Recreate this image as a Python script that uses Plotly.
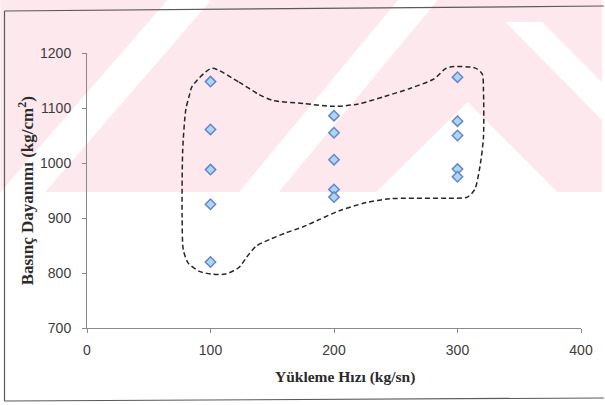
import plotly.graph_objects as go

# Loading rate (kg/sn) and measured compressive strength (kg/cm2)
rate_100 = [1148, 1061, 988, 925, 820]
rate_200 = [1086, 1055, 1006, 952, 938]
rate_300 = [1156, 1076, 1050, 989, 975]
rates = [100, 200, 300]

# Hand-drawn envelope around the measurements (data units)
envelope_x = [101, 123, 139, 150, 176, 200, 219, 241, 262, 281, 290, 295, 314, 320,
              321, 321, 318, 314, 308, 293, 245, 226, 204, 188, 175, 161, 148, 137,
              129, 123, 112, 101, 91, 82, 78, 77, 77.5, 80, 83, 85, 101]
envelope_y = [1172, 1147, 1125, 1114, 1108, 1103, 1107, 1121, 1136, 1153, 1171, 1175,
              1173, 1162, 1133, 1046, 991, 952, 938, 936, 935, 928, 913, 897, 884, 873,
              861, 849, 828, 810, 798, 798, 803, 818, 842, 903, 1024, 1097, 1124, 1139,
              1172]

x_ticks = [0, 100, 200, 300, 400]
y_ticks = [700, 800, 900, 1000, 1100, 1200]

W, H = 605, 405
L, R, T, B = 87, 21, 53, 77
PW, PH = W - L - R, H - T - B


def px(x):
    return (x - L) / PW


def py(y):
    return (H - B - y) / PH


xs, ys = [], []
for r, vals in zip(rates, [rate_100, rate_200, rate_300]):
    xs += [r] * len(vals)
    ys += vals

fig = go.Figure()

fig.add_trace(go.Scatter(
    x=envelope_x, y=envelope_y, mode="lines",
    line=dict(color="#262626", width=1.5, dash="5px,3px", shape="spline", smoothing=0.7),
    hoverinfo="skip", showlegend=False,
))

fig.add_trace(go.Scatter(
    x=xs, y=ys, mode="markers",
    marker=dict(symbol="diamond", size=8, color="#a8d8f4",
                line=dict(color="#6a84cc", width=1.5)),
    showlegend=False,
))

shapes = []
# pale pink band with white diagonal stripes behind the upper part of the figure
pink = "#fde9ed"
shapes.append(dict(type="rect", xref="paper", yref="paper", layer="below",
                   x0=px(0), x1=px(W), y0=py(192), y1=py(0),
                   fillcolor=pink, line=dict(width=0)))
stripes = [
    [(0, 192), (45, 192), (212, 0), (168, 0)],
    [(240, 192), (280, 192), (440, 0), (400, 0)],
    [(378, 192), (470, 102), (560, 192)],
    [(508, 22), (545, 22), (605, 82), (605, 120)],
]
for poly in stripes:
    path = "M " + " L ".join(f"{px(a):.4f},{py(b):.4f}" for a, b in poly) + " Z"
    shapes.append(dict(type="path", xref="paper", yref="paper", layer="below",
                       path=path, fillcolor="white", line=dict(width=0)))

# outer frame
frame = dict(color="#5a5a5a", width=1.2)
shapes.append(dict(type="line", xref="paper", yref="paper", x0=px(4), x1=px(W + 2),
                   y0=py(11), y1=py(6), line=frame))
shapes.append(dict(type="line", xref="paper", yref="paper", x0=px(4), x1=px(4),
                   y0=py(11), y1=py(401), line=frame))
shapes.append(dict(type="line", xref="paper", yref="paper", x0=px(4), x1=px(W + 2),
                   y0=py(401), y1=py(398), line=frame))

annotations = [
    dict(text="<b>Yükleme Hızı (kg/sn)</b>", xref="paper", yref="paper",
         x=px(347), y=py(377), showarrow=False,
         font=dict(family="Liberation Serif", size=15.5, color="#2b2b2b"),
         xanchor="center", yanchor="middle"),
    dict(text="<b>Basınç Dayanımı (kg/cm<sup>2</sup>)</b>", xref="paper", yref="paper",
         x=px(26), y=py(191), showarrow=False,
         font=dict(family="Liberation Serif", size=17, color="#2b2b2b"), textangle=-90,
         xanchor="center", yanchor="middle"),
]

axis_common = dict(showline=True, linecolor="#8a8a8a", linewidth=1, ticks="outside",
                   tickcolor="#8a8a8a", ticklen=4, showgrid=False, zeroline=False,
                   tickfont=dict(family="Liberation Sans", size=14, color="#3c3c3c"))

fig.update_layout(
    width=W, height=H,
    margin=dict(l=L, r=R, t=T, b=B),
    paper_bgcolor="white", plot_bgcolor="rgba(0,0,0,0)",
    xaxis=dict(range=[0, 400], tickvals=x_ticks, ticklabelstandoff=5, **axis_common),
    yaxis=dict(range=[700, 1200], tickvals=y_ticks, ticklabelstandoff=8, **axis_common),
    shapes=shapes, annotations=annotations,
)

fig.write_html("out.html")
